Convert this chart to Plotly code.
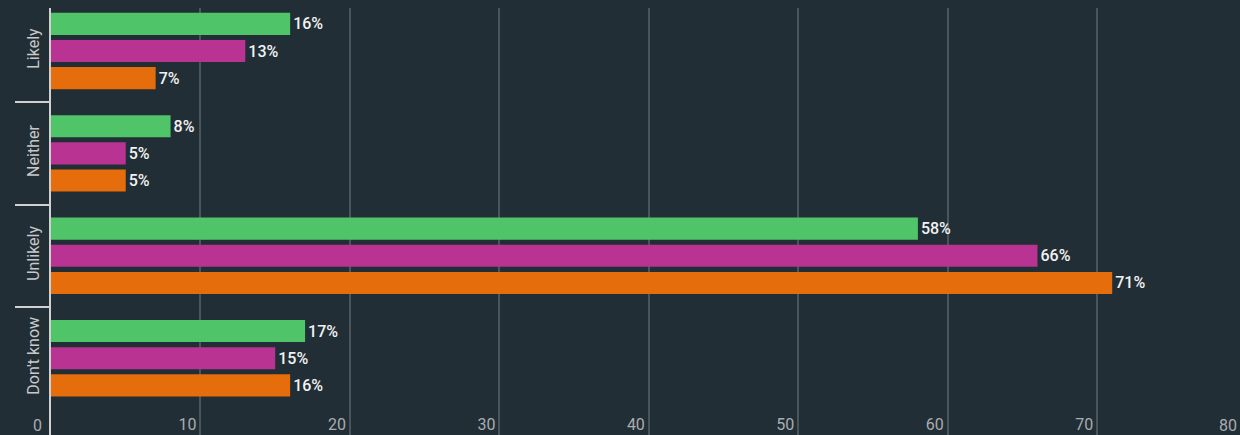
import plotly.graph_objects as go

categories = ["Likely", "Neither", "Unlikely", "Don't know"]
series_names = ["Series 1", "Series 2", "Series 3"]
series_1 = [16, 8, 58, 17]
series_2 = [13, 5, 66, 15]
series_3 = [7, 5, 71, 16]
colors = ["#50c468", "#b93393", "#e56d0b"]
x_ticks = [0, 10, 20, 30, 40, 50, 60, 70]

BG = "#212e36"
TICK_GRAY = "#a9adb0"

fig = go.Figure()
for name, vals, col in zip(series_names, [series_1, series_2, series_3], colors):
    fig.add_trace(go.Bar(
        y=categories, x=vals, name=name, orientation="h",
        marker=dict(color=col, line=dict(width=0)),
        text=[f"{v}%" for v in vals], textposition="outside",
        textfont=dict(family="Roboto", size=16, color="#f2f2f2", weight=500),
        cliponaxis=False,
    ))

fig.update_layout(
    width=1240, height=435,
    paper_bgcolor=BG, plot_bgcolor=BG,
    margin=dict(l=51, r=0, t=8, b=0),
    barmode="group", bargap=0.205, bargroupgap=0.185,
    showlegend=False,
    font=dict(family="Roboto", color="#c8c8c8"),
    xaxis=dict(
        range=[0, 79.55], tickvals=x_ticks, showgrid=True,
        gridcolor="#48555d", gridwidth=2, zeroline=False,
        ticklabelposition="inside left", ticks="",
        ticklabelshift=-4, ticklabelstandoff=-4,
        tickfont=dict(family="Roboto", size=16, color=TICK_GRAY),
        showline=False,
    ),
    yaxis=dict(
        range=[3.75, -0.42], showgrid=False, zeroline=False,
        showline=True, linecolor="#d0d0d0", linewidth=2,
        ticks="outside", tickson="boundaries", ticklen=34,
        tickcolor="#d0d0d0", tickwidth=2,
        tickangle=-90, ticklabelstandoff=4,
        tickfont=dict(family="Roboto", size=16, color="#c8c8c8"),
    ),
)

for val, txt, xs in [(0, "0", -7), (79.55, "80", -1)]:
    fig.add_annotation(
        x=val, xref="x", y=0, yref="paper", text=txt, showarrow=False,
        xanchor="right", yanchor="bottom", yshift=-2, xshift=xs,
        font=dict(family="Roboto", size=16, color=TICK_GRAY),
    )

fig.write_html(
    "out.html",
    config={"displayModeBar": False},
    post_script="document.body.style.margin='0';document.body.style.overflow='hidden';",
)
